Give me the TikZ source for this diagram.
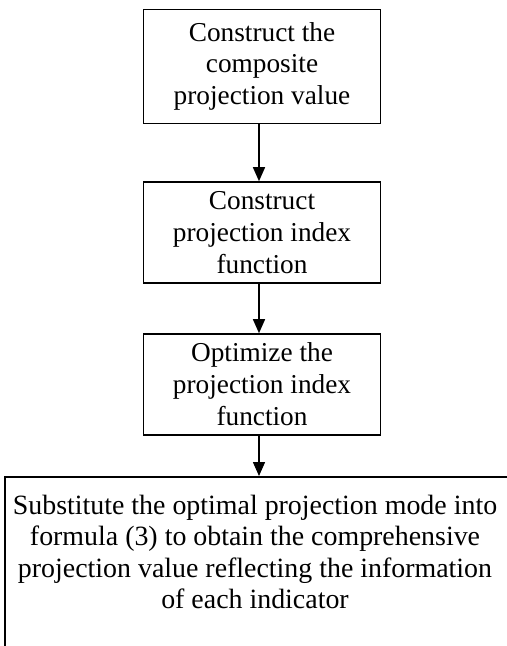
\documentclass[tikz,border=0pt]{standalone}
\usepackage{fontspec}
\setmainfont{Liberation Serif}
\usetikzlibrary{arrows.meta}
\begin{document}
\begin{tikzpicture}[x=1bp,y=-1bp,
  stepbox/.style={draw, line width=1.6bp, align=center, inner sep=0pt,
    font=\fontsize{27.4}{32}\selectfont},
  flow/.style={line width=1.5bp, -{Triangle[length=14bp,width=12bp]}}]
\useasboundingbox (0,0) rectangle (507,646);
\clip (0,0) rectangle (507,646);
\node[stepbox, minimum width=237bp, minimum height=114bp] (b1) at (262,66.4)
  {Construct the\\composite\\projection value};
\node[stepbox, minimum width=237bp, minimum height=101bp] (b2) at (262,232.5)
  {Construct\\projection index\\function};
\node[stepbox, minimum width=237bp, minimum height=101bp] (b3) at (262,384.5)
  {Optimize the\\projection index\\function};
\node[draw, line width=1.6bp, minimum width=1040bp, minimum height=400bp,
  anchor=north west, inner sep=0pt] (b4) at (4,476) {};
\node[align=center, inner sep=0pt, font=\fontsize{28}{31.5}\selectfont] (b4t) at (255,552)
  {Substitute the optimal projection mode into\\formula (3) to obtain the comprehensive\\projection value reflecting the information\\of each indicator};
\draw[flow] ([xshift=-3bp]b1.south) -- ([xshift=-3bp]b2.north);
\draw[flow] ([xshift=-3bp]b2.south) -- ([xshift=-3bp]b3.north);
\draw[flow] ([xshift=-3bp]b3.south) -- ([xshift=-3bp]b3.south |- b4.north);
\end{tikzpicture}
\end{document}
